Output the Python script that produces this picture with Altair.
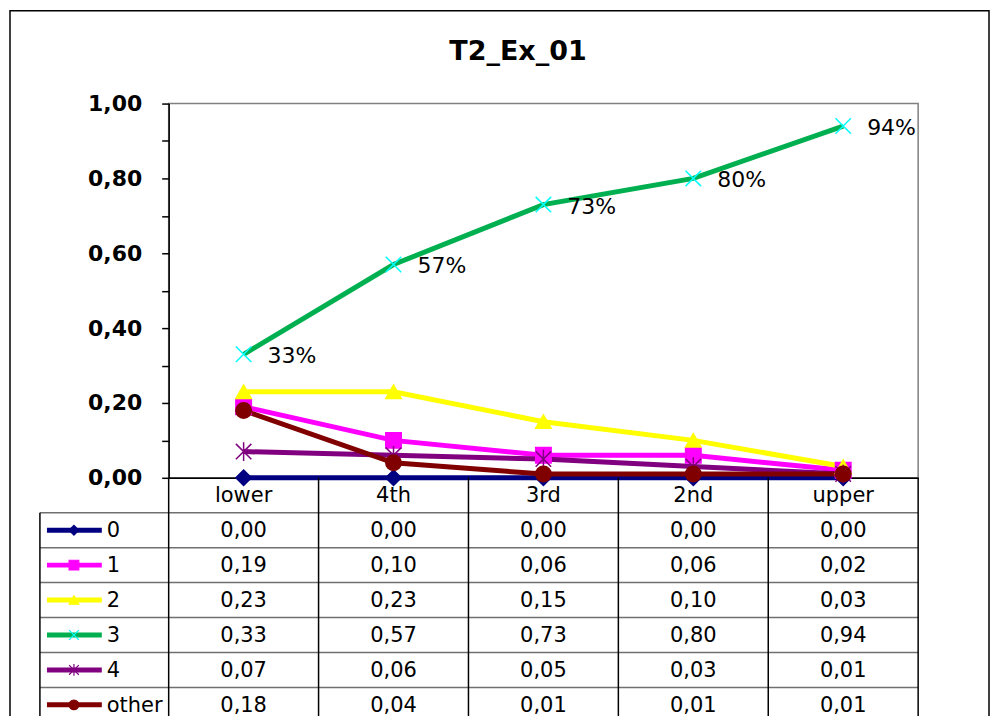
import altair as alt
import pandas as pd

# ---------------- data ----------------
title_text = "T2_Ex_01"
categories = ["lower", "4th", "3rd", "2nd", "upper"]
series_names = ["0", "1", "2", "3", "4", "other"]
s0 = [0.00, 0.00, 0.00, 0.00, 0.00]
s1 = [0.19, 0.10, 0.06, 0.06, 0.02]
s2 = [0.23, 0.23, 0.15, 0.10, 0.03]
s3 = [0.33, 0.57, 0.73, 0.80, 0.94]
s4 = [0.07, 0.06, 0.05, 0.03, 0.01]
s_other = [0.18, 0.04, 0.01, 0.01, 0.01]
labelled_series = "3"
y_tick_values = [0.0, 0.1, 0.2, 0.3, 0.4, 0.5, 0.6, 0.7, 0.8, 0.9, 1.0]

# ---------------- styles ----------------
line_colors = ["#000080", "#FF00FF", "#FFFF00", "#00B050", "#800080", "#800000"]
marker_colors = ["#000080", "#FF00FF", "#FFFF00", "#00FFFF", "#800080", "#800000"]
marker_shapes = ["diamond", "square", "triangle-up",
                 "M-1,-1L1,1M-1,1L1,-1",
                 "M-1,-1L1,1M-1,1L1,-1M0,-1.2L0,1.2",
                 "circle"]
FONT = "DejaVu Sans"
PLOT_W, PLOT_H = 751, 375
ROW_H = 35
N_ROWS = 7

all_values = [s0, s1, s2, s3, s4, s_other]

def fmt(v):
    return f"{v:.2f}".replace(".", ",")

rows = []
for si, (name, vals) in enumerate(zip(series_names, all_values)):
    for ci, (cat, v) in enumerate(zip(categories, vals)):
        rows.append({"series": name, "sidx": si, "cat": cat, "cidx": ci,
                     "value": v, "label": fmt(v), "pct": f"{round(v * 100)}%"})
df = pd.DataFrame(rows)

col_scale = alt.Scale(domain=series_names, range=line_colors)
mcol_scale = alt.Scale(domain=series_names, range=marker_colors)
shape_scale = alt.Scale(domain=series_names, range=marker_shapes)

# ---------------- top plot ----------------
label_expr = ("round(datum.value * 10) % 2 == 0 ? "
              "replace(format(datum.value, '.2f'), '.', ',') : ''")

base = alt.Chart(df).encode(
    x=alt.X("cat:N", sort=categories,
            scale=alt.Scale(type="point", padding=0.5),
            axis=alt.Axis(title=None, labels=False, ticks=False, domain=True,
                          domainColor="black", domainWidth=1.5)),
    y=alt.Y("value:Q", scale=alt.Scale(domain=[0, 1], nice=False, zero=True),
            axis=alt.Axis(title=None, values=y_tick_values, labelExpr=label_expr,
                          grid=False, tickSize=7, tickWidth=1.5, tickColor="black",
                          domainColor="black", domainWidth=1.5,
                          labelFont=FONT, labelFontWeight="bold", labelFontSize=22,
                          labelColor="black", labelPadding=20, labelFlush=False)),
)

lines = base.mark_line(strokeWidth=5).encode(
    color=alt.Color("series:N", scale=col_scale, legend=None),
    detail="series:N",
)

points = base.mark_point(filled=True, opacity=1, strokeWidth=1.5, size=240).encode(
    shape=alt.Shape("series:N", scale=shape_scale, legend=None),
    fill=alt.Fill("series:N", scale=mcol_scale, legend=None),
    stroke=alt.Stroke("series:N", scale=mcol_scale, legend=None),
    order=alt.Order("sidx:Q"),
)

pct_labels = base.transform_filter(
    alt.datum.series == labelled_series
).mark_text(align="left", baseline="middle", dx=24, dy=2,
            font=FONT, fontSize=22, color="black").encode(text="pct:N")

title_mark = alt.Chart(pd.DataFrame({"t": [title_text]})).mark_text(
    font=FONT, fontSize=27, fontWeight="bold", color="black",
    align="center", baseline="middle"
).encode(text="t:N", x=alt.value(350), y=alt.value(-52))

frame = alt.Chart(pd.DataFrame({"f": [0]})).mark_rect(
    fillOpacity=0, stroke="black", strokeWidth=1.5
).encode(x=alt.value(-159), x2=alt.value(822), y=alt.value(-93), y2=alt.value(650))

top = alt.layer(frame, lines, points, pct_labels, title_mark).properties(
    width=PLOT_W, height=PLOT_H,
    view=alt.ViewBackground(stroke="#808080", strokeWidth=1.5),
)

# ---------------- table ----------------
LEG_LEFT = -0.859
LEG_LINE_X1, LEG_LINE_X2 = -0.812, -0.446
LEG_MARK_X = -0.632
LEG_TEXT_X = -0.413

cells = df.assign(col=df["cidx"] + 0.5, row=df["sidx"] + 1.5)
header = pd.DataFrame({"cat": categories,
                       "col": [i + 0.5 for i in range(len(categories))],
                       "row": [0.5] * len(categories)})
legend_df = pd.DataFrame({"series": series_names,
                          "row": [i + 1.5 for i in range(len(series_names))]})
legend_df["x1"] = LEG_LINE_X1
legend_df["x2"] = LEG_LINE_X2
legend_df["xm"] = LEG_MARK_X
legend_df["xt"] = LEG_TEXT_X

vlines = pd.DataFrame({"x": [LEG_LEFT] + list(range(len(categories) + 1)),
                       "y1": [1] + [0] * (len(categories) + 1),
                       "y2": [N_ROWS] * (len(categories) + 2)})
hlines = pd.DataFrame({"y": list(range(1, N_ROWS)),
                       "x1": [LEG_LEFT] * (N_ROWS - 1),
                       "x2": [len(categories)] * (N_ROWS - 1)})

xs = alt.Scale(domain=[0, len(categories)], nice=False, zero=False)
ys = alt.Scale(domain=[0, N_ROWS], nice=False, zero=False, reverse=True)

hl = alt.Chart(hlines).mark_rule(color="#707070", strokeWidth=1.5).encode(
    x=alt.X("x1:Q", scale=xs, axis=None), x2="x2:Q",
    y=alt.Y("y:Q", scale=ys, axis=None))
vl = alt.Chart(vlines).mark_rule(color="black", strokeWidth=1.5).encode(
    x=alt.X("x:Q", scale=xs, axis=None),
    y=alt.Y("y1:Q", scale=ys, axis=None), y2="y2:Q")

head_txt = alt.Chart(header).mark_text(font=FONT, fontSize=21, color="black",
                                       baseline="middle", dy=1).encode(
    x=alt.X("col:Q", scale=xs, axis=None), y=alt.Y("row:Q", scale=ys, axis=None),
    text="cat:N")
cell_txt = alt.Chart(cells).mark_text(font=FONT, fontSize=21, color="black",
                                      baseline="middle", dy=1).encode(
    x=alt.X("col:Q", scale=xs, axis=None), y=alt.Y("row:Q", scale=ys, axis=None),
    text="label:N")

leg_lines = alt.Chart(legend_df).mark_rule(strokeWidth=5).encode(
    x=alt.X("x1:Q", scale=xs, axis=None), x2="x2:Q",
    y=alt.Y("row:Q", scale=ys, axis=None),
    color=alt.Color("series:N", scale=col_scale, legend=None))
leg_marks = alt.Chart(legend_df).mark_point(filled=True, opacity=1, strokeWidth=1.2, size=95).encode(
    x=alt.X("xm:Q", scale=xs, axis=None), y=alt.Y("row:Q", scale=ys, axis=None),
    shape=alt.Shape("series:N", scale=shape_scale, legend=None),
    fill=alt.Fill("series:N", scale=mcol_scale, legend=None),
    stroke=alt.Stroke("series:N", scale=mcol_scale, legend=None))
leg_text = alt.Chart(legend_df).mark_text(font=FONT, fontSize=21, color="black",
                                          align="left", baseline="middle", dy=1).encode(
    x=alt.X("xt:Q", scale=xs, axis=None), y=alt.Y("row:Q", scale=ys, axis=None),
    text="series:N")

table = alt.layer(hl, vl, head_txt, cell_txt, leg_lines, leg_marks, leg_text).properties(
    width=PLOT_W, height=ROW_H * N_ROWS,
    view=alt.ViewBackground(strokeOpacity=0),
)

chart = alt.vconcat(top, table, spacing=0, bounds="flush").resolve_scale(
    x="independent", y="independent", color="independent",
    shape="independent", fill="independent", stroke="independent",
).properties(padding=0, background="white").configure_view(strokeWidth=0)

chart.save("out.html", embed_options={"renderer": "svg", "actions": False})
